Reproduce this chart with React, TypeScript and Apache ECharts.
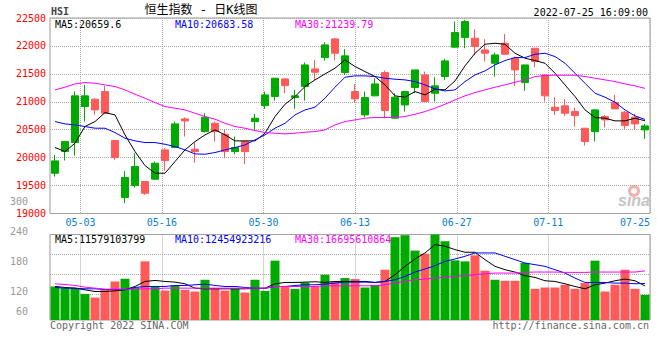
import React, { useEffect, useRef } from "react";
import * as echarts from "echarts";

const dates = [
  "04-27", "04-28", "04-29", "05-03", "05-04", "05-05", "05-06", "05-10", "05-11", "05-12",
  "05-13", "05-16", "05-17", "05-18", "05-19", "05-20", "05-23", "05-24", "05-25", "05-26",
  "05-27", "05-30", "05-31", "06-01", "06-02", "06-06", "06-07", "06-08", "06-09", "06-10",
  "06-13", "06-14", "06-15", "06-16", "06-17", "06-20", "06-21", "06-22", "06-23", "06-24",
  "06-27", "06-28", "06-29", "06-30", "07-04", "07-05", "07-06", "07-07", "07-08", "07-11",
  "07-12", "07-13", "07-14", "07-15", "07-18", "07-19", "07-20", "07-21", "07-22", "07-25",
];
const xTickLabels = ["05-03", "05-16", "05-30", "06-13", "06-27", "07-11", "07-25"];

const opens = [
  19721, 20109, 20270, 20915, 21046, 21183, 20306, 19286, 19500, 19572,
  19614, 20139, 20181, 20694, 20151, 20467, 20616, 20419, 20109, 20288,
  20646, 20932, 21094, 21410, 21076, 21273, 21589, 21792, 22126, 21523,
  21183, 20765, 21106, 21523, 20706, 20944, 21255, 21481, 21153, 21452,
  21977, 22150, 22138, 21929, 21690, 22048, 21780, 21344, 21959, 21481,
  20903, 20927, 20825, 20527, 20467, 20736, 20986, 20813, 20724, 20497,
];
const closes = [
  19942, 20288, 21106, 21106, 20855, 20795, 20002, 19644, 19841, 19363,
  19900, 19948, 20604, 20658, 20109, 20724, 20467, 20109, 20181, 20109,
  20706, 21123, 21422, 21290, 21106, 21660, 21529, 22018, 21869, 21822,
  21052, 21076, 21320, 20843, 21082, 21183, 21571, 21004, 21285, 21732,
  22239, 22436, 21989, 21869, 21839, 21851, 21571, 21660, 21720, 21106,
  20843, 20795, 20753, 20288, 20855, 20676, 20873, 20574, 20604, 20568,
];
const lows = [
  19661, 19948, 20037, 20646, 20765, 20783, 19960, 19184, 19465, 19333,
  19602, 19763, 20169, 20378, 19912, 20449, 20288, 19990, 20061, 19882,
  20485, 20873, 21022, 21153, 20873, 21022, 21392, 21738, 21738, 21481,
  20986, 20724, 21100, 20706, 20694, 20825, 21153, 21004, 21004, 21392,
  21977, 21959, 21839, 21720, 21452, 21851, 21285, 21195, 21619, 21004,
  20765, 20747, 20557, 20216, 20288, 20539, 20873, 20515, 20497, 20336,
];
const highs = [
  20049, 20300, 21183, 21302, 21064, 21285, 20306, 19763, 20079, 19572,
  19930, 20169, 20646, 20724, 20270, 20795, 20646, 20509, 20378, 20288,
  20783, 21183, 21422, 21422, 21213, 21702, 21750, 22066, 22138, 21941,
  21320, 21183, 21422, 21559, 21153, 21183, 21571, 21541, 21440, 21768,
  22436, 22466, 22299, 22120, 21881, 22215, 21810, 21660, 21959, 21481,
  21082, 21046, 20897, 20527, 20867, 20765, 21123, 20837, 20783, 20604,
];

const ma5 = [
  20181, 20109, 20258, 20557, 20646, 20807, 20765, 20407, 20109, 19858,
  19721, 19721, 19930, 20139, 20288, 20407, 20497, 20407, 20300, 20300,
  20300, 20437, 20736, 20956, 21094, 21273, 21392, 21499, 21601, 21750,
  21631, 21541, 21452, 21302, 21106, 21082, 21183, 21123, 21225, 21213,
  21374, 21643, 21869, 22030, 22048, 22030, 21869, 21780, 21738, 21690,
  21511, 21302, 21094, 20855, 20718, 20706, 20658, 20658, 20706, 20660,
];
const ma10 = [
  20646, 20604, 20586, 20557, 20527, 20527, 20449, 20348, 20300, 20270,
  20270, 20240, 20198, 20139, 20067, 20061, 20091, 20139, 20181, 20228,
  20318, 20407, 20527, 20616, 20765, 20855, 20903, 21064, 21261, 21440,
  21464, 21464, 21452, 21422, 21404, 21392, 21362, 21302, 21231, 21195,
  21213, 21362, 21481, 21553, 21660, 21738, 21792, 21792, 21851, 21869,
  21810, 21690, 21511, 21332, 21153, 21082, 20992, 20855, 20747, 20684,
];
const ma30 = [
  21213, 21261, 21320, 21344, 21332, 21302, 21273, 21213, 21135, 21064,
  20986, 20915, 20885, 20855, 20795, 20736, 20688, 20616, 20557, 20527,
  20485, 20449, 20437, 20425, 20437, 20455, 20467, 20497, 20586, 20646,
  20676, 20706, 20718, 20718, 20718, 20736, 20777, 20825, 20885, 20956,
  21034, 21106, 21165, 21213, 21261, 21302, 21350, 21392, 21452, 21470,
  21476, 21476, 21476, 21452, 21422, 21392, 21362, 21320, 21285, 21240,
];

// volume in 亿 (100 million)
const volumes = [
  113.9, 108.4, 108.4, 88.9, 76.3, 102.6, 131.0, 140.2, 110.5, 199.4,
  113.9, 100.2, 117.3, 102.6, 96.8, 136.8, 108.4, 100.2, 106.0, 93.4,
  136.8, 99.2, 201.8, 113.9, 106.0, 127.6, 113.9, 153.9, 131.0, 142.6,
  139.2, 110.5, 119.7, 171.0, 281.5, 288.3, 236.0, 225.7, 290.7, 267.8,
  202.8, 199.4, 219.9, 167.6, 136.8, 133.4, 133.4, 193.9, 106.0, 110.5,
  110.5, 119.7, 106.0, 125.5, 201.8, 96.8, 119.7, 171.0, 106.0, 85.5,
];
const volMa5 = [
  114.0, 110.6, 108.3, 102.6, 96.9, 96.9, 99.2, 102.6, 114.0, 131.1,
  134.5, 131.1, 128.8, 123.1, 108.3, 106.0, 106.0, 106.0, 106.0, 106.0,
  107.2, 108.3, 123.1, 127.7, 127.7, 128.8, 130.0, 127.7, 131.1, 131.1,
  131.1, 131.1, 127.7, 131.1, 153.9, 182.4, 207.5, 228.0, 256.5, 250.8,
  239.4, 230.3, 230.3, 205.2, 182.4, 171.0, 163.0, 150.5, 144.8, 133.4,
  131.1, 123.1, 114.0, 106.0, 119.7, 125.4, 133.4, 139.1, 133.4, 115.8,
];
const volMa10 = [
  110.6, 108.3, 108.3, 106.0, 106.0, 103.7, 103.7, 103.7, 110.6, 114.0,
  114.0, 114.0, 117.4, 117.4, 119.7, 122.0, 117.4, 114.0, 114.0, 110.6,
  108.3, 107.2, 114.0, 114.0, 117.4, 119.7, 119.7, 122.0, 125.4, 128.8,
  128.8, 128.8, 127.7, 131.1, 136.8, 148.2, 163.0, 173.3, 184.7, 199.5,
  207.5, 216.6, 228.0, 228.0, 228.0, 216.6, 205.2, 193.8, 188.1, 182.4,
  171.0, 159.6, 142.5, 127.7, 127.7, 127.7, 125.4, 125.4, 123.1, 124.5,
];
const volMa30 = [
  123.1, 120.8, 117.4, 111.7, 108.3, 104.9, 104.9, 104.9, 104.9, 106.0,
  106.0, 108.3, 108.3, 108.3, 108.3, 108.3, 108.3, 108.3, 108.3, 108.3,
  108.3, 108.3, 114.0, 114.0, 114.0, 114.0, 114.0, 116.3, 116.3, 116.3,
  116.3, 116.3, 116.3, 119.7, 125.4, 131.1, 136.8, 139.1, 142.5, 145.9,
  148.2, 150.5, 153.9, 157.3, 159.6, 159.6, 159.6, 161.9, 163.0, 163.0,
  163.0, 161.9, 161.9, 161.9, 163.0, 163.0, 163.0, 163.0, 163.0, 167.0,
];

const GREEN = "#00aa00";
const RED = "#ff5a5a";
const MONO = '"DejaVu Sans Mono", monospace';
const GRIDC = "#aaaaaa";

const isTick = (idx: number) => xTickLabels.includes(dates[idx]);

function txt(x: number, y: number, text: string, fill: string, align = "left", font = `10px ${MONO}`) {
  return {
    type: "text",
    x,
    y,
    silent: true,
    style: { text, fill, font, textAlign: align, textVerticalAlign: "middle" },
  };
}

export default function App() {
  const ref = useRef<HTMLDivElement>(null);
  useEffect(() => {
    document.body.style.margin = "0";
    const chart = echarts.init(ref.current!, null, { renderer: "svg" });
    const option: any = {
      animation: false,
      backgroundColor: "#ffffff",
      grid: [
        { left: 50, right: 10, top: 18, height: 195.5, show: true, borderColor: "#999", borderWidth: 1 },
        { left: 50, right: 10, top: 234.5, height: 85.5, show: true, borderColor: "#999", borderWidth: 1 },
        { left: 50, right: 10, top: 201, height: 120 },
        { left: 50, right: 10, top: 234.5, height: 60 },
      ],
      xAxis: [
        { type: "category", gridIndex: 0, position: "top", data: dates, boundaryGap: true, show: false },
        {
          type: "category",
          gridIndex: 0,
          position: "bottom",
          data: dates,
          boundaryGap: false,
          axisLine: { show: false },
          axisTick: { show: false },
          axisLabel: {
            interval: (i: number) => isTick(i),
            color: "#0b7fd6",
            fontSize: 10,
            fontFamily: MONO,
            margin: 4,
            alignMaxLabel: "right",
          },
          splitLine: {
            show: true,
            interval: (i: number) => isTick(i),
            lineStyle: { color: GRIDC, type: "dotted", width: 1 },
          },
        },
        { type: "category", gridIndex: 1, position: "top", data: dates, boundaryGap: true, show: false },
        {
          type: "category",
          gridIndex: 1,
          position: "bottom",
          data: dates,
          boundaryGap: false,
          axisLine: { show: false },
          axisTick: { show: false },
          axisLabel: { show: false },
          splitLine: {
            show: true,
            interval: (i: number) => isTick(i),
            lineStyle: { color: GRIDC, type: "dotted", width: 1 },
          },
        },
        { type: "value", gridIndex: 2, show: false },
        { type: "value", gridIndex: 3, show: false },
      ],
      yAxis: [
        {
          type: "value",
          gridIndex: 0,
          min: 19000,
          max: 22500,
          interval: 500,
          axisLine: { show: false },
          axisTick: { show: false },
          axisLabel: {
            color: "#ff0000",
            fontSize: 10,
            fontFamily: MONO,
            margin: 4,
            formatter: (v: number) => String(v),
          },
          splitLine: { show: true, lineStyle: { color: GRIDC, type: "dotted", width: 1 } },
        },
        { type: "value", gridIndex: 1, min: 0, max: "dataMax", show: false, splitLine: { show: false } },
        {
          type: "value",
          gridIndex: 2,
          min: 60,
          max: 300,
          interval: 60,
          axisLine: { show: false },
          axisTick: { show: false },
          splitLine: { show: false },
          axisLabel: {
            color: "#999999",
            fontSize: 10,
            fontFamily: MONO,
            margin: 22,
            formatter: (v: number) => (v === 60 ? "{s|60}" : String(v)),
            rich: { s: { color: "#999999", fontSize: 10, fontFamily: MONO, padding: [0, 0, 20, 0] } },
          },
        },
        {
          type: "value",
          gridIndex: 3,
          min: 0,
          max: 60,
          interval: 20,
          axisLine: { show: false },
          axisTick: { show: false },
          axisLabel: { show: false },
          splitLine: { show: true, lineStyle: { color: GRIDC, type: "dotted", width: 1 } },
        },
      ],
      series: [
        {
          type: "candlestick",
          xAxisIndex: 0,
          yAxisIndex: 0,
          barWidth: 8,
          data: opens.map((o, i) => [o, closes[i], lows[i], highs[i]]),
          itemStyle: { color: GREEN, color0: RED, borderColor: GREEN, borderColor0: RED, borderWidth: 1 },
        },
        {
          type: "line", xAxisIndex: 0, yAxisIndex: 0, data: ma5, symbol: "none",
          lineStyle: { color: "#000000", width: 1 },
        },
        {
          type: "line", xAxisIndex: 0, yAxisIndex: 0, data: ma10, symbol: "none",
          lineStyle: { color: "#0000ff", width: 1 },
        },
        {
          type: "line", xAxisIndex: 0, yAxisIndex: 0, data: ma30, symbol: "none",
          lineStyle: { color: "#ff00ff", width: 1 },
        },
        {
          type: "bar",
          xAxisIndex: 2,
          yAxisIndex: 1,
          barWidth: 9,
          data: volumes.map((v, i) => ({
            value: v,
            itemStyle: { color: closes[i] >= opens[i] ? GREEN : RED },
          })),
        },
        {
          type: "line", xAxisIndex: 2, yAxisIndex: 1, data: volMa5, symbol: "none",
          lineStyle: { color: "#000000", width: 1 },
        },
        {
          type: "line", xAxisIndex: 2, yAxisIndex: 1, data: volMa10, symbol: "none",
          lineStyle: { color: "#0000ff", width: 1 },
        },
        {
          type: "line", xAxisIndex: 2, yAxisIndex: 1, data: volMa30, symbol: "none",
          lineStyle: { color: "#ff00ff", width: 1 },
        },
      ],
      graphic: [
        txt(51, 11, "HSI", "#444444", "left", `bold 10px ${MONO}`),
        txt(201, 10, "恒生指数 - 日K线图", "#000000", "center", '12px "DejaVu Sans Mono", "Noto Sans CJK SC"'),
        txt(648, 12, "2022-07-25 16:09:00", "#000000", "right"),
        txt(55, 24, "MA5:20659.6", "#000000"),
        txt(175, 24, "MA10:20683.58", "#0000ff"),
        txt(295, 24, "MA30:21239.79", "#ff00ff"),
        txt(55, 239, "MA5:11579103799", "#000000"),
        txt(175, 239, "MA10:12454923216", "#0000ff"),
        txt(295, 239, "MA30:16695610864", "#ff00ff"),
        txt(50, 325, "Copyright 2022 SINA.COM", "#666666"),
        txt(649, 325, "http://finance.sina.com.cn", "#666666", "right"),
        {
          type: "ring",
          silent: true,
          shape: { cx: 634, cy: 191, r: 6, r0: 3 },
          style: { fill: "#f3b0b0" },
        },
        txt(618, 200, "sina", "#c4c4c4", "left", 'italic bold 16px "Liberation Sans"'),
      ],
    };
    chart.setOption(option);
    return () => chart.dispose();
  }, []);
  return <div ref={ref} style={{ width: 660, height: 360 }} />;
}
